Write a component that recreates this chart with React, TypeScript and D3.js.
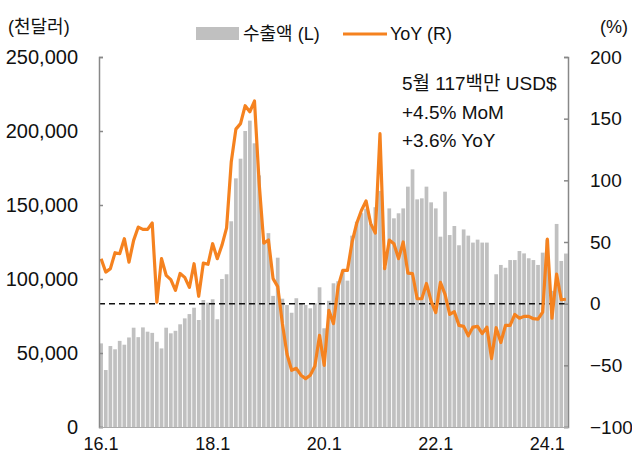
import React, { useRef, useEffect } from 'react';
import * as d3 from 'd3';

// 월별 수출액 (천달러), 16.1 ~ 24.5
const exportsK = [
  56500, 38500, 54700, 52500, 58200, 55600, 60500, 67100, 60700, 67300, 64400, 63600,
  57600, 53100, 67100, 63300, 65000, 69400, 73400, 76300, 80600, 72300, 85800, 84000,
  86300, 72800, 100000, 103200, 139000, 168000, 181300, 200000, 207000, 191700, 170000, 126000,
  131000, 88600, 114400, 86700, 82400, 77200, 87000, 83600, 82400, 80200, 83600, 94400,
  66700, 85300, 97100, 98500, 106100, 98900, 129300, 138700, 144500, 147500, 137500, 148500,
  159500, 108000, 147700, 141000, 144400, 147700, 162400, 174100, 153800, 154500, 162400, 151800,
  147700, 128600, 159000, 129700, 135800, 122800, 133500, 129300, 124600, 126600, 124600, 124600,
  83000, 103200, 109500, 107600, 112800, 112800, 118900, 117300, 114000, 112800, 109500, 117800,
  126500, 92000, 137200, 112200, 117200,
];

// YoY (%)
const yoy = [
  36.5, 25.6, 28.4, 41.3, 40.5, 52.7, 33.7, 51.3, 62.1, 60.2, 60.2, 65.4,
  1.3, 36.5, 23, 19.5, 10.8, 24.5, 21.3, 13.2, 32.4, 6, 32.9, 31.9,
  48.6, 36.5, 47.3, 61.5, 114.8, 141.5, 146, 160.5, 155.6, 164.3, 98, 49,
  51.6, 20.3, 13.8, -16, -41, -54, -52.4, -58, -60.8, -58, -50.5, -25.7,
  -50, -5.4, -16.2, 14, 27, 27, 50, 65.2, 75.6, 83.3, 64.9, 57.2,
  137.8, 28.4, 51.6, 48.6, 36.5, 50, 24.8, 24.3, 4, 4, 16.4, 2,
  -7.2, 17.2, 7.5, -8.7, -6.5, -17.6, -18.4, -26, -19, -18.4, -24.3, -19,
  -44.5, -19.5, -31.5, -17.6, -17.6, -8.7, -11.8, -10.3, -10.3, -12.2, -12.5, -6.8,
  52.3, -11.8, 24, 3.2, 3.6,
];

const xTickLabels = ['16.1', '18.1', '20.1', '22.1', '24.1'];
const leftTicks = [0, 50000, 100000, 150000, 200000, 250000];
const rightTicks = [-100, -50, 0, 50, 100, 150, 200];
const noteLines = ['5월 117백만 USD$', '+4.5% MoM', '+3.6% YoY'];

const FONT = "'Liberation Sans', Arial, 'Noto Sans CJK KR', sans-serif";

const App = () => {
  const svgRef = useRef<SVGSVGElement>(null);

  useEffect(() => {
    const width = 632;
    const height = 461;
    const margin = { top: 57, right: 64, bottom: 34, left: 99 };

    const svg = d3.select(svgRef.current)
      .attr('width', width)
      .attr('height', height)
      .style('font-family', FONT);

    svg.selectAll('*').remove();

    const idx = exportsK.map((_, i) => i);

    const x = d3.scaleBand<number>()
      .domain(idx)
      .range([margin.left, width - margin.right])
      .paddingInner(0.2)
      .paddingOuter(0.05);

    const yL = d3.scaleLinear().domain([0, 250000]).range([height - margin.bottom, margin.top]);
    const yR = d3.scaleLinear().domain([-100, 200]).range([height - margin.bottom, margin.top]);

    // bars
    svg.append('g')
      .selectAll('rect')
      .data(exportsK)
      .enter()
      .append('rect')
      .attr('x', (_, i) => x(i)!)
      .attr('y', d => yL(d))
      .attr('width', x.bandwidth())
      .attr('height', d => yL(0) - yL(d))
      .attr('fill', '#c0c0c0');

    // zero line of right axis
    svg.append('line')
      .attr('x1', margin.left)
      .attr('x2', width - margin.right)
      .attr('y1', yR(0))
      .attr('y2', yR(0))
      .attr('stroke', '#111')
      .attr('stroke-width', 1.5)
      .attr('stroke-dasharray', '6,4');

    // YoY line
    const line = d3.line<number>()
      .x((_, i) => x(i)! + x.bandwidth() / 2)
      .y(d => yR(d));

    svg.append('path')
      .datum(yoy)
      .attr('d', line)
      .attr('fill', 'none')
      .attr('stroke', '#f5821f')
      .attr('stroke-width', 3.2)
      .attr('stroke-linejoin', 'round');

    // left axis
    const gL = svg.append('g')
      .attr('transform', `translate(${margin.left},0)`)
      .call(d3.axisLeft(yL).tickValues(leftTicks).tickFormat(d3.format(',')).tickSize(-4).tickPadding(21));
    gL.selectAll('path, line').attr('stroke', '#888').attr('stroke-width', 1.5);
    gL.selectAll('text').style('font-size', '20px').attr('fill', '#111').style('font-family', FONT);

    // right axis
    const gR = svg.append('g')
      .attr('transform', `translate(${width - margin.right},0)`)
      .call(d3.axisRight(yR).tickValues(rightTicks).tickFormat(d => d3.format('d')(d as number).replace('-', '−')).tickSize(-4).tickPadding(22));
    gR.selectAll('path, line').attr('stroke', '#888').attr('stroke-width', 1.5);
    gR.selectAll('text').style('font-size', '19px').attr('fill', '#111').style('font-family', FONT);

    // bottom axis
    const gB = svg.append('g')
      .attr('transform', `translate(0,${height - margin.bottom})`)
      .call(d3.axisBottom(x).tickValues([0, 24, 48, 72, 96]).tickFormat((_, i) => xTickLabels[i]).tickSize(0).tickPadding(10));
    gB.select('path').attr('stroke', '#aaa').attr('stroke-width', 1);
    gB.selectAll('text').style('font-size', '18px').attr('fill', '#111').style('font-family', FONT);

    // unit labels
    svg.append('text').attr('x', 8).attr('y', 33).text('(천달러)')
      .style('font-size', '18px').attr('fill', '#111');
    svg.append('text').attr('x', 628).attr('y', 33).attr('text-anchor', 'end').text('(%)')
      .style('font-size', '18px').attr('fill', '#111');

    // legend
    svg.append('rect').attr('x', 196).attr('y', 27).attr('width', 43).attr('height', 13).attr('fill', '#c0c0c0');
    svg.append('text').attr('x', 243).attr('y', 40).text('수출액 (L)')
      .style('font-size', '18px').attr('fill', '#111');
    svg.append('line').attr('x1', 343).attr('x2', 387).attr('y1', 34).attr('y2', 34)
      .attr('stroke', '#f5821f').attr('stroke-width', 3);
    svg.append('text').attr('x', 390).attr('y', 40).text('YoY (R)')
      .style('font-size', '18px').attr('fill', '#111');

    // annotation
    svg.append('g')
      .selectAll('text')
      .data(noteLines)
      .enter()
      .append('text')
      .attr('x', 402)
      .attr('y', (_, i) => 90 + i * 28.5)
      .text(d => d)
      .style('font-size', '19px')
      .attr('fill', '#111');
  }, []);

  return <svg ref={svgRef} style={{ position: 'absolute', left: 0, top: 0 }}></svg>;
};

export default App;
